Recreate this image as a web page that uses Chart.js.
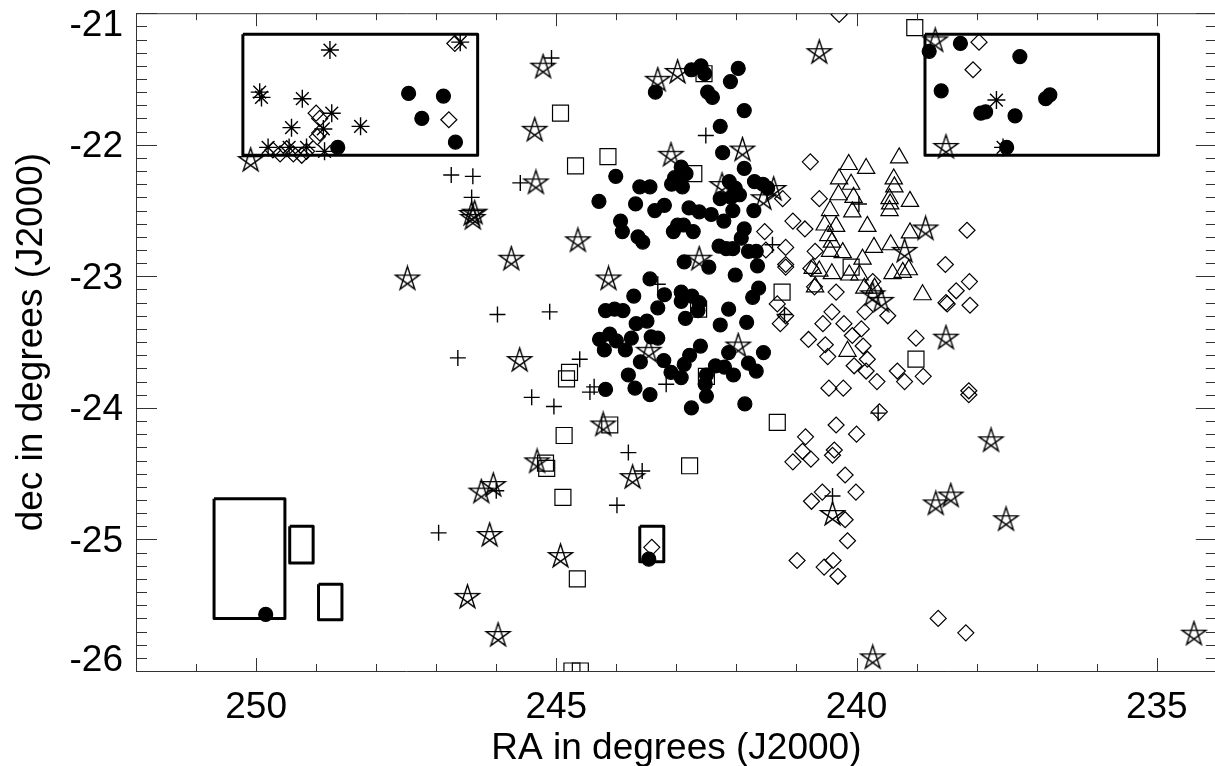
<!DOCTYPE html>
<html>
<head>
<meta charset="utf-8">
<script src="https://cdn.jsdelivr.net/npm/chart.js@4.4.1/dist/chart.umd.min.js"></script>
<style>
  html, body { margin: 0; padding: 0; background: #fff; overflow: hidden; }
</style>
</head>
<body>
<canvas id="sky" width="1230" height="766"></canvas>
<script>
// axis tick labels
const raTicks = [250, 245, 240, 235];
const decTicks = [-21, -22, -23, -24, -25, -26];

// filled circles
const dotRa = [243.35, 242.75, 242.59, 242.53, 241.97, 242.10, 242.48, 242.40, 241.87, 242.27,
  242.23, 241.87, 244.01, 242.92, 242.84, 243.03, 242.90, 243.08, 243.61, 243.44,
  244.29, 243.68, 243.36, 243.20, 242.79, 242.62, 242.42, 243.93, 243.90, 243.64,
  243.56, 242.98, 242.88, 243.05, 242.72, 242.12, 242.02, 241.95, 242.09, 242.27,
  242.06, 242.21, 241.70, 241.56, 241.48, 241.71, 241.87, 241.92, 242.29, 242.17,
  242.06, 241.80, 241.67, 242.87, 242.46, 242.02, 241.65, 241.63, 241.73, 243.44,
  243.71, 243.20, 244.18, 244.03, 243.89, 243.31, 242.92, 242.74, 242.62, 242.92,
  242.64, 242.85, 243.67, 243.49, 242.13, 242.27, 241.83, 244.28, 244.11, 244.00,
  244.20, 243.75, 243.85, 243.42, 243.31, 243.60, 243.21, 242.60, 242.78, 242.87,
  243.09, 242.92, 243.80, 243.69, 243.44, 244.18, 242.75, 242.13, 242.35, 242.20,
  242.50, 242.52, 242.50, 242.05, 241.80, 241.67, 241.55, 241.86,
  247.46, 247.24, 246.88, 246.68, 248.64,
  238.79, 238.27, 237.28, 238.59, 237.93, 237.85, 237.36, 236.85, 236.78, 237.50,
  249.84, 243.46];
const dotDec = [-21.60, -21.43, -21.40, -21.46, -21.42, -21.52, -21.60, -21.64, -21.74, -21.86,
  -22.06, -22.18, -22.24, -22.17, -22.22, -22.25, -22.32, -22.30, -22.32, -22.32,
  -22.43, -22.45, -22.50, -22.46, -22.48, -22.51, -22.53, -22.58, -22.66, -22.70,
  -22.74, -22.61, -22.61, -22.66, -22.66, -22.28, -22.33, -22.38, -22.40, -22.41,
  -22.50, -22.58, -22.28, -22.30, -22.33, -22.50, -22.64, -22.71, -22.77, -22.79,
  -22.79, -22.81, -22.81, -22.89, -22.93, -22.99, -22.92, -23.09, -23.16, -23.02,
  -23.15, -23.14, -23.26, -23.25, -23.26, -23.24, -23.12, -23.15, -23.20, -23.19,
  -23.26, -23.32, -23.36, -23.34, -23.25, -23.37, -23.35, -23.48, -23.44, -23.49,
  -23.56, -23.47, -23.56, -23.46, -23.47, -23.65, -23.64, -23.53, -23.60, -23.67,
  -23.73, -23.77, -23.75, -23.85, -23.90, -23.86, -24.00, -23.58, -23.68, -23.69,
  -23.75, -23.82, -23.91, -23.75, -23.66, -23.72, -23.58, -23.97,
  -21.61, -21.80, -21.63, -21.98, -22.02,
  -21.29, -21.23, -21.33, -21.59, -21.76, -21.75, -21.78, -21.65, -21.62, -22.02,
  -25.57, -25.15];

// open squares
const sqRa = [244.93, 244.68, 244.14, 242.54, 242.71, 239.03, 241.24, 244.78, 244.83, 242.50,
  242.63, 241.32, 244.11, 244.87, 245.18, 245.16, 242.78, 244.89, 244.65, 244.74,
  244.60, 239.01, 240.09];
const sqDec = [-21.76, -22.16, -22.09, -21.46, -22.22, -21.11, -23.12, -23.73, -23.78, -23.76,
  -23.25, -24.11, -24.13, -24.21, -24.42, -24.46, -24.44, -24.68, -25.30, -26.00,
  -26.00, -23.63, -22.93];

// plus signs
const plusRa = [245.08, 246.75, 246.39, 246.41, 245.60, 242.51, 241.40, 239.96, 241.20, 239.64,
  245.98, 245.11, 246.64, 244.61, 245.41, 245.04, 244.37, 244.44, 243.17, 243.31,
  243.80, 243.57, 246.00, 243.99, 246.96, 240.40];
const plusDec = [-21.34, -22.23, -22.24, -22.40, -22.29, -21.93, -22.76, -22.45, -23.29, -24.04,
  -23.29, -23.27, -23.62, -23.63, -23.92, -23.99, -23.84, -23.88, -23.82, -23.06,
  -24.34, -24.48, -24.63, -24.74, -24.95, -24.67];

// asterisks
const astRa = [248.77, 249.94, 249.91, 249.23, 248.74, 249.41, 248.88, 248.26, 249.80, 249.45,
  249.16, 248.86, 246.60, 237.67, 237.56];
const astDec = [-21.28, -21.60, -21.64, -21.65, -21.76, -21.87, -21.88, -21.86, -22.02, -22.02,
  -22.02, -22.05, -21.22, -21.66, -22.02];

// open diamonds
const diaRa = [249.00, 248.94, 248.98, 248.94, 249.72, 249.60, 249.49, 249.38, 249.24, 249.16,
  246.69, 246.79, 237.96, 238.06, 240.29, 240.77, 240.62, 241.23, 241.06, 240.86,
  241.53, 241.18, 241.51, 240.69, 241.18, 241.18, 240.76, 240.70, 240.34, 241.32,
  241.27, 241.18, 240.41, 240.56, 240.21, 239.92, 240.07, 240.80, 240.52, 240.48,
  239.89, 239.82, 240.04, 239.84, 239.66, 240.46, 240.22, 239.32, 239.20, 238.89,
  238.13, 238.13, 240.34, 240.00, 240.85, 240.90, 240.76, 241.06, 240.37, 240.40,
  240.19, 240.57, 240.01, 240.75, 240.19, 240.15, 240.99, 240.54, 240.39, 240.31,
  238.64, 238.18, 243.41, 239.86, 239.48, 239.73, 239.01, 238.52, 238.34, 238.51,
  238.49, 238.12, 238.11, 238.16, 239.62];
const diaDec = [-21.76, -21.80, -21.94, -21.91, -22.04, -22.07, -22.03, -22.07, -22.08, -22.05,
  -21.23, -21.81, -21.22, -21.43, -21.01, -22.13, -22.41, -22.41, -22.58, -22.64,
  -22.66, -22.78, -22.80, -22.81, -22.91, -22.93, -22.94, -23.08, -23.12, -23.21,
  -23.36, -23.30, -23.27, -23.36, -23.36, -23.40, -23.45, -23.48, -23.52, -23.61,
  -23.53, -23.63, -23.68, -23.72, -23.80, -23.85, -23.85, -23.72, -23.80, -23.76,
  -23.87, -23.90, -24.13, -24.20, -24.22, -24.33, -24.39, -24.41, -24.32, -24.36,
  -24.51, -24.64, -24.64, -24.71, -24.85, -25.01, -25.16, -25.21, -25.16, -25.28,
  -25.60, -25.71, -25.06, -23.27, -23.30, -23.04, -23.47, -22.91, -23.11, -23.20,
  -23.21, -23.04, -23.22, -22.65, -24.03];

// open triangles
const triRa = [240.13, 239.84, 239.29, 240.29, 240.09, 239.38, 239.37, 240.30, 240.05, 239.45,
  239.44, 239.45, 239.11, 240.44, 240.07, 240.53, 240.34, 239.82, 240.47, 240.41,
  239.11, 239.71, 239.43, 240.44, 240.23, 239.90, 240.73, 240.62, 240.41, 240.69,
  240.12, 239.95, 239.40, 239.23, 239.13, 239.87, 239.70, 238.90, 240.15];
const triDec = [-22.15, -22.18, -22.10, -22.26, -22.30, -22.26, -22.32, -22.38, -22.40, -22.41,
  -22.45, -22.50, -22.43, -22.50, -22.51, -22.61, -22.62, -22.62, -22.69, -22.74,
  -22.67, -22.78, -22.76, -22.81, -22.82, -22.87, -22.94, -22.96, -22.98, -23.08,
  -22.99, -22.99, -22.98, -22.97, -22.95, -23.09, -23.09, -23.14, -23.57];

// five-pointed stars
const starRa = [250.09, 245.22, 245.36, 245.34, 246.41, 246.39, 246.36, 244.64, 243.31, 242.98,
  243.09, 241.90, 242.24, 241.38, 241.55, 240.62, 245.75, 242.62, 238.69, 238.51,
  238.85, 239.20, 247.48, 244.13, 245.61, 243.46, 241.97, 244.22, 245.32, 243.73,
  246.25, 246.05, 239.73, 239.59, 238.51, 237.76, 238.43, 238.68, 240.40, 237.51,
  239.73, 234.38, 246.11, 244.93, 246.48, 245.97];
const starDec = [-22.12, -21.41, -21.89, -22.29, -22.53, -22.56, -22.52, -22.73, -21.51, -21.45,
  -22.08, -22.04, -22.31, -22.34, -22.41, -21.30, -22.87, -22.87, -21.21, -22.02,
  -22.64, -22.81, -23.02, -23.02, -23.64, -23.57, -23.53, -24.13, -24.41, -24.53,
  -24.64, -24.59, -23.14, -23.19, -23.47, -24.25, -24.67, -24.73, -24.81, -24.85,
  -25.90, -25.72, -24.97, -25.13, -25.44, -25.73];

// outlined regions: [ra from, ra to, dec from, dec to]
const boxes = [
  [250.22, 246.31, -21.16, -22.08],
  [238.86, 234.97, -21.16, -22.08],
  [250.70, 249.52, -24.69, -25.60],
  [249.44, 249.05, -24.90, -25.18],
  [248.96, 248.57, -25.34, -25.61],
  [243.61, 243.21, -24.90, -25.17]
];

const pts = (ra, dec) => ra.map((v, i) => ({ x: v, y: dec[i] }));

// pentagram drawn as a crossing star outline
function pentagram(r, lw) {
  const s = Math.ceil(2 * r + 4);
  const c = document.createElement('canvas');
  c.width = s;
  c.height = s;
  const g = c.getContext('2d');
  g.strokeStyle = '#000';
  g.lineWidth = lw;
  g.beginPath();
  for (let k = 0; k <= 5; k++) {
    const a = -Math.PI / 2 + ((k * 2) % 5) * 2 * Math.PI / 5;
    const px = s / 2 + r * Math.cos(a);
    const py = s / 2 + r * Math.sin(a);
    if (k === 0) g.moveTo(px, py); else g.lineTo(px, py);
  }
  g.closePath();
  g.stroke();
  return c;
}
const starImg = pentagram(12.5, 1.4);

const marker = (data, style, radius, order, fill, lw) => ({
  data: data,
  pointStyle: style,
  pointRadius: radius,
  pointBorderWidth: lw || 1.2,
  pointBorderColor: '#000',
  pointBackgroundColor: fill ? '#000' : 'rgba(0,0,0,0)',
  showLine: false,
  clip: 0,
  order: order
});

const boxSets = boxes.map(b => ({
  data: [
    { x: b[0], y: b[2] }, { x: b[1], y: b[2] }, { x: b[1], y: b[3] },
    { x: b[0], y: b[3] }, { x: b[0], y: b[2] }
  ],
  showLine: true,
  borderColor: '#000',
  borderWidth: 3,
  borderJoinStyle: 'round',
  pointRadius: 0,
  tension: 0,
  fill: false,
  clip: 0,
  order: 10
}));

// frame, inward ticks, tick labels and axis titles
const frame = {
  id: 'frame',
  afterDatasetsDraw(chart) {
    const { ctx, chartArea: a, scales: { x, y } } = chart;
    ctx.save();
    ctx.strokeStyle = '#333';
    ctx.lineWidth = 1;
    ctx.beginPath();
    ctx.rect(a.left + 0.5, a.top + 0.5, a.right - a.left, a.bottom - a.top);
    for (let v = 234; v <= 252; v++) {
      const px = Math.round(x.getPixelForValue(v)) + 0.5;
      const len = v % 5 === 0 ? 13 : 7;
      ctx.moveTo(px, a.bottom);
      ctx.lineTo(px, a.bottom - len);
      ctx.moveTo(px, a.top);
      ctx.lineTo(px, a.top + len);
    }
    for (let i = 0; i <= 50; i++) {
      const py = Math.round(y.getPixelForValue(-26 + i / 10)) + 0.5;
      const len = i % 10 === 0 ? 21 : 11;
      ctx.moveTo(a.left, py);
      ctx.lineTo(a.left + len, py);
      ctx.moveTo(a.right, py);
      ctx.lineTo(a.right - len, py);
    }
    ctx.stroke();

    ctx.fillStyle = '#000';
    ctx.font = '37px "Liberation Sans", Arial, sans-serif';
    ctx.textBaseline = 'alphabetic';
    ctx.textAlign = 'center';
    raTicks.forEach(v => ctx.fillText(String(v), x.getPixelForValue(v), a.bottom + 47));
    ctx.textAlign = 'right';
    decTicks.forEach(v => {
      const py = y.getPixelForValue(v);
      const base = Math.min(Math.max(py + 12.5, a.top + 22.5), a.bottom);
      ctx.fillText(String(v), a.left - 13, base);
    });

    ctx.textAlign = 'center';
    ctx.fillText('RA in degrees (J2000)', (a.left + a.right) / 2, 759);
    ctx.translate(42, (a.top + a.bottom) / 2);
    ctx.rotate(-Math.PI / 2);
    ctx.fillText('dec in degrees (J2000)', 0, 0);
    ctx.restore();
  }
};

new Chart(document.getElementById('sky').getContext('2d'), {
  type: 'scatter',
  data: {
    datasets: [
      ...boxSets,
      marker(pts(diaRa, diaDec), 'rectRot', 8, 6, false),
      marker(pts(triRa, triDec), 'triangle', 10, 6, false),
      marker(pts(dotRa, dotDec), 'circle', 7, 5, true),
      marker(pts(sqRa, sqDec), 'rect', 11.3, 4, false),
      marker(pts(plusRa, plusDec), 'cross', 8, 3, false, 1.4),
      marker(pts(astRa, astDec), 'star', 9, 3, false, 1.4),
      marker(pts(starRa, starDec), starImg, 12, 2, false)
    ]
  },
  options: {
    responsive: false,
    animation: false,
    events: [],
    layout: { padding: { left: 136, right: 13, top: 11, bottom: 95 } },
    scales: {
      x: { type: 'linear', display: false, reverse: true, min: 234, max: 252 },
      y: { type: 'linear', display: false, min: -26, max: -21 }
    },
    plugins: {
      legend: { display: false },
      tooltip: { enabled: false }
    }
  },
  plugins: [frame]
});
</script>
</body>
</html>
